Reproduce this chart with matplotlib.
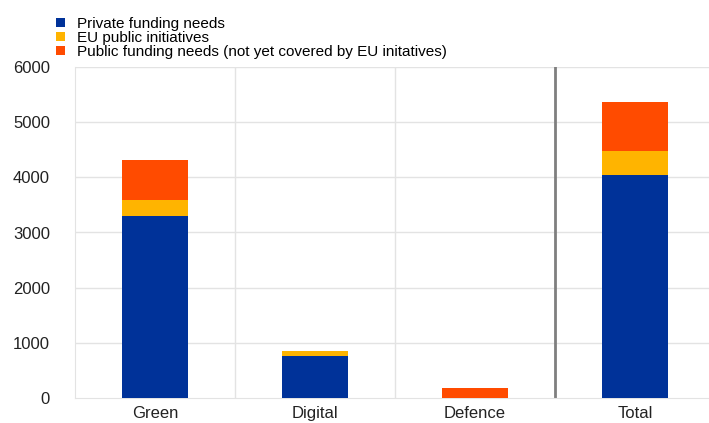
import numpy as np
import matplotlib.pyplot as plt
from matplotlib.patches import Patch

plt.rcParams['font.family'] = ['Liberation Sans', 'DejaVu Sans']

# data
categories = ['Green', 'Digital', 'Defence', 'Total']
private_needs = [3300, 770, 0, 4050]
eu_initiatives = [290, 90, 0, 420]
public_needs = [720, 0, 190, 900]

series_labels = ['Private funding needs',
                 'EU public initiatives',
                 'Public funding needs (not yet covered by EU initatives)']
colors = ['#003299', '#FFB400', '#FF4B00']

fig = plt.figure(figsize=(7.09, 4.23), dpi=100)
ax = fig.add_axes([75 / 709, 1 - 398 / 423, 634 / 709, 331 / 423])

x = np.arange(len(categories))
width = 0.41
bottom = np.zeros(len(categories))
for vals, col in zip([private_needs, eu_initiatives, public_needs], colors):
    ax.bar(x, vals, width, bottom=bottom, color=col, zorder=3)
    bottom += np.array(vals)

ax.set_xlim(-0.5, 3.4625)
ax.set_ylim(0, 6000)
ax.set_yticks(range(0, 6001, 1000))
ax.set_xticks(x)
ax.set_xticklabels(categories)
ax.tick_params(length=0, labelsize=12, colors='#222222')
ax.tick_params(axis='y', pad=18)
ax.tick_params(axis='x', pad=6)

# grid lines and separators
for yv in range(1000, 6001, 1000):
    ax.axhline(yv, color='#e3e3e3', lw=1, zorder=1)
for xv in [0.5, 1.5]:
    ax.axvline(xv, color='#e3e3e3', lw=1, zorder=1)
ax.axvline(2.5, color='#7f7f7f', lw=2, zorder=2)

for side in ['top', 'right']:
    ax.spines[side].set_visible(False)
for side in ['left', 'bottom']:
    ax.spines[side].set_color('#e3e3e3')

handles = [Patch(facecolor=c, edgecolor='none') for c in colors]
fig.legend(handles, series_labels, loc='upper left', bbox_to_anchor=(56 / 709, 1 - 17 / 423),
           frameon=False, fontsize=11, handlelength=0.6, handleheight=0.6,
           handletextpad=0.8, labelspacing=0.0, borderaxespad=0, borderpad=0)

fig.savefig('out.png', dpi=100)
